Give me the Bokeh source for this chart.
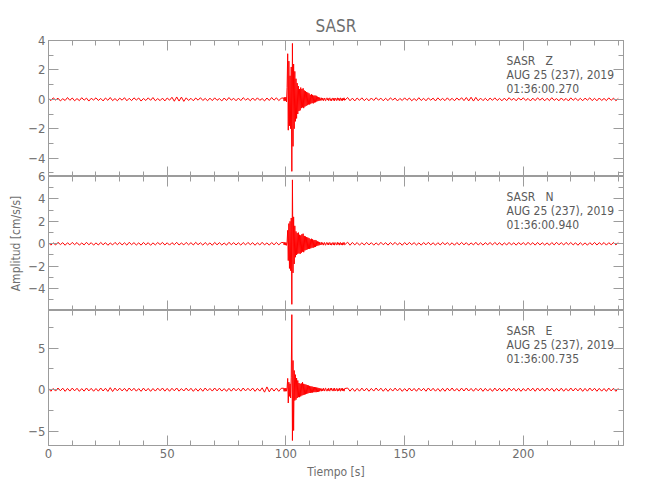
import numpy as np
from bokeh.plotting import figure
from bokeh.models import Range1d, LinearAxis, FixedTicker, CustomJSTickFormatter, Label, ColumnDataSource
from bokeh.layouts import column
from bokeh.embed import file_html
from bokeh.resources import INLINE

# ---------------- data ----------------
STATION = "SASR"
COMPONENTS = ["Z", "N", "E"]
DATE_LINE = "AUG 25 (237), 2019"
START_TIMES = ["01:36:00.270", "01:36:00.940", "01:36:00.735"]
X_LABEL = "Tiempo [s]"
Y_LABEL = "Amplitud [cm/s/s]"

T_PRE_START, DT_QUIET = 0.0, 1.0
T_EVT_START, DT_EVT = 99.0, 0.25
T_POST_START = 126.0

Z_PRE = [0.06, -0.09, 0.1, -0.05, 0.08, -0.11, 0.04, -0.08, 0.12, -0.07,
         0.09, -0.1, 0.05, -0.09, 0.11, -0.06, 0.08, -0.12, 0.07, -0.05,
         0.1, -0.08, 0.06, -0.11, 0.09, -0.07, 0.12, -0.09, 0.05, -0.1,
         0.08, -0.06, 0.11, -0.1, 0.07, -0.09, 0.1, -0.05, 0.09, -0.12,
         0.06, -0.08, 0.1, -0.07, 0.12, -0.1, 0.05, -0.09, 0.08, -0.11,
         0.09, -0.06, 0.14, -0.13, 0.16, -0.12, 0.15, -0.14, 0.1, -0.08,
         0.07, -0.1, 0.09, -0.06, 0.11, -0.08, 0.06, -0.1, 0.08, -0.09,
         0.1, -0.07, 0.05, -0.11, 0.09, -0.08, 0.12, -0.06, 0.07, -0.1,
         0.08, -0.09, 0.11, -0.05, 0.06, -0.1, 0.09, -0.08, 0.1, -0.07,
         0.05, -0.11, 0.09, -0.08, 0.12, -0.06, 0.1, -0.09, 0.07]
Z_EVT = [0.1, -0.12, 0.14, -0.1, 0.15, -0.18, 0.8, 3.1, -2.1, 2.6,
         -1.8, 1.6, -2.0, 2.2, -4.9, 3.8, -3.2, 2.4, -2.0, 1.9,
         -1.5, 1.4, -1.3, 1.1, -1.0, 0.9, -0.8, 0.7, -0.75, 0.8,
         -0.6, 0.7, -0.55, 0.75, -0.6, 0.6, -0.5, 0.55, -0.45, 0.5,
         -0.4, 0.45, -0.35, 0.4, -0.35, 0.3, -0.3, 0.35, -0.25, 0.3,
         -0.28, 0.25, -0.22, 0.26, -0.2, 0.24, -0.15, 0.18, -0.12, 0.14,
         -0.1, 0.12, 0.03, -0.09, 0.1, -0.04, 0.08, -0.1, 0.02, 0.09,
         -0.07, -0.1, 0.06, 0.1, -0.05, 0.07, -0.09, 0.04, 0.1, -0.08,
         0.02, -0.1, 0.08, 0.05, -0.07, 0.09, -0.1, 0.03, 0.08, -0.06,
         -0.09, 0.1, -0.03, 0.07, -0.1, 0.06, 0.09, -0.08, 0.04, -0.1,
         0.08, -0.05, 0.1, -0.07]
Z_POST = [0.12, -0.1, 0.08, -0.11, 0.09, -0.07, 0.1, -0.09, 0.06, -0.1,
          0.09, -0.08, 0.11, -0.06, 0.08, -0.1, 0.07, -0.09, 0.1, -0.05,
          0.08, -0.11, 0.06, -0.08, 0.1, -0.07, 0.09, -0.1, 0.05, -0.09,
          0.11, -0.08, 0.07, -0.1, 0.09, -0.06, 0.08, -0.11, 0.1, -0.07,
          0.06, -0.09, 0.1, -0.08, 0.07, -0.1, 0.09, -0.06, 0.11, -0.09,
          0.12, -0.11, 0.14, -0.12, 0.13, -0.1, 0.08, -0.09, 0.07, -0.1,
          0.09, -0.07, 0.1, -0.08, 0.06, -0.1, 0.08, -0.09, 0.11, -0.06,
          0.07, -0.1, 0.09, -0.05, 0.1, -0.08, 0.06, -0.11, 0.08, -0.09,
          0.1, -0.06, 0.08, -0.1, 0.07, -0.09, 0.11, -0.07, 0.05, -0.1,
          0.09, -0.08, 0.06, -0.11, 0.1, -0.07, 0.08, -0.09, 0.07, -0.1,
          0.08, -0.06, 0.1, -0.09, 0.07, -0.1, 0.09, -0.08, 0.06, -0.09,
          0.1, -0.07, 0.08, -0.1, 0.06]

N_PRE = [0.1, -0.12, 0.08, -0.11, 0.13, -0.07, 0.1, -0.13, 0.09, -0.1,
         0.12, -0.08, 0.11, -0.12, 0.07, -0.1, 0.13, -0.09, 0.1, -0.12,
         0.08, -0.11, 0.12, -0.09, 0.1, -0.13, 0.07, -0.1, 0.12, -0.08,
         0.11, -0.1, 0.09, -0.12, 0.13, -0.08, 0.1, -0.11, 0.08, -0.12,
         0.12, -0.09, 0.1, -0.13, 0.08, -0.1, 0.11, -0.07, 0.12, -0.11,
         0.09, -0.12, 0.1, -0.08, 0.13, -0.11, 0.07, -0.1, 0.12, -0.09,
         0.1, -0.11, 0.13, -0.08, 0.09, -0.12, 0.11, -0.1, 0.08, -0.13,
         0.12, -0.09, 0.1, -0.11, 0.07, -0.12, 0.13, -0.08, 0.1, -0.1,
         0.09, -0.12, 0.11, -0.1, 0.12, -0.08, 0.1, -0.13, 0.09, -0.11,
         0.13, -0.1, 0.08, -0.12, 0.11, -0.09, 0.12, -0.1, 0.1]
N_EVT = [0.12, -0.1, 0.13, -0.12, 0.11, -0.14, 0.15, 1.2, -1.5, 1.8,
         -2.2, 2.0, -2.4, 2.3, -5.4, 5.7, -2.6, 2.4, -1.8, 1.6,
         -1.2, 1.1, -1.0, 0.95, -0.9, 1.0, -0.85, 0.8, -0.9, 0.75,
         -0.8, 0.85, -0.7, 0.9, -0.75, 0.7, -0.6, 0.65, -0.55, 0.6,
         -0.5, 0.55, -0.45, 0.5, -0.45, 0.4, -0.4, 0.45, -0.35, 0.4,
         -0.35, 0.32, -0.3, 0.34, -0.28, 0.3, -0.2, 0.22, -0.16, 0.18,
         -0.13, 0.15, 0.04, -0.11, 0.12, -0.05, 0.1, -0.12, 0.03, 0.11,
         -0.09, -0.12, 0.07, 0.12, -0.06, 0.09, -0.11, 0.05, 0.12, -0.1,
         0.03, -0.12, 0.1, 0.06, -0.09, 0.11, -0.12, 0.04, 0.1, -0.07,
         -0.11, 0.12, -0.04, 0.09, -0.12, 0.07, 0.11, -0.1, 0.05, -0.12,
         0.1, -0.06, 0.12, -0.09]
N_POST = [0.14, -0.13, 0.12, -0.1, 0.11, -0.12, 0.09, -0.11, 0.12, -0.1,
          0.1, -0.12, 0.08, -0.11, 0.13, -0.09, 0.1, -0.12, 0.11, -0.08,
          0.12, -0.1, 0.09, -0.13, 0.11, -0.1, 0.12, -0.08, 0.1, -0.11,
          0.08, -0.12, 0.11, -0.09, 0.13, -0.1, 0.09, -0.12, 0.1, -0.11,
          0.12, -0.08, 0.1, -0.11, 0.09, -0.13, 0.11, -0.1, 0.12, -0.09,
          0.1, -0.12, 0.08, -0.1, 0.13, -0.11, 0.09, -0.12, 0.1, -0.08,
          0.11, -0.1, 0.12, -0.09, 0.1, -0.13, 0.08, -0.11, 0.12, -0.1,
          0.09, -0.12, 0.11, -0.08, 0.1, -0.11, 0.13, -0.09, 0.1, -0.12,
          0.12, -0.1, 0.09, -0.11, 0.08, -0.12, 0.11, -0.1, 0.13, -0.09,
          0.1, -0.11, 0.12, -0.08, 0.11, -0.1, 0.09, -0.13, 0.1, -0.11,
          0.08, -0.12, 0.1, -0.09, 0.12, -0.11, 0.1, -0.08, 0.11, -0.12,
          0.1, -0.09, 0.12, -0.1, 0.11]

E_PRE = [0.16, -0.19, 0.14, -0.17, 0.2, -0.13, 0.18, -0.2, 0.15, -0.17,
         0.19, -0.14, 0.17, -0.2, 0.13, -0.18, 0.2, -0.15, 0.16, -0.19,
         0.14, -0.18, 0.2, -0.16, 0.17, -0.21, 0.24, -0.22, 0.19, -0.14,
         0.18, -0.15, 0.16, -0.19, 0.2, -0.14, 0.17, -0.18, 0.13, -0.2,
         0.19, -0.16, 0.15, -0.2, 0.14, -0.17, 0.18, -0.13, 0.2, -0.18,
         0.15, -0.19, 0.17, -0.14, 0.2, -0.18, 0.13, -0.16, 0.19, -0.15,
         0.17, -0.2, 0.14, -0.18, 0.16, -0.19, 0.2, -0.14, 0.15, -0.17,
         0.2, -0.15, 0.18, -0.17, 0.13, -0.2, 0.16, -0.18, 0.19, -0.14,
         0.16, -0.18, 0.2, -0.15, 0.17, -0.14, 0.19, -0.2, 0.15, -0.17,
         0.22, -0.3, 0.33, -0.26, 0.2, -0.17, 0.18, -0.2, 0.16]
E_EVT = [0.18, -0.2, 0.17, -0.19, 0.2, -0.18, 0.2, 1.35, -1.6, 0.9,
         -0.8, 0.7, -1.0, 1.5, 9.0, -6.1, 3.5, -4.9, 2.3, -1.3,
         1.8, -1.2, 1.4, -1.0, 1.1, -0.9, 0.8, -0.9, 0.7, -0.8,
         0.75, -0.7, 0.9, -0.65, 0.7, -0.6, 0.65, -0.55, 0.6, -0.5,
         0.55, -0.45, 0.5, -0.4, 0.45, -0.4, 0.4, -0.35, 0.38, -0.35,
         0.33, -0.3, 0.32, -0.3, 0.28, -0.3, 0.26, -0.28, 0.22, -0.24,
         0.19, -0.2, -0.05, 0.16, -0.18, 0.07, -0.15, 0.18, -0.04, -0.17,
         0.13, 0.18, -0.1, -0.18, 0.09, -0.14, 0.17, -0.07, -0.18, 0.15,
         -0.04, 0.18, -0.15, -0.09, 0.13, -0.17, 0.18, -0.06, -0.15, 0.1,
         0.17, -0.18, 0.05, -0.13, 0.18, -0.1, -0.17, 0.15, -0.07, 0.18,
         -0.15, 0.09, -0.18, 0.13]
E_POST = [0.2, -0.18, 0.17, -0.2, 0.15, -0.18, 0.19, -0.16, 0.17, -0.19,
          0.15, -0.17, 0.2, -0.14, 0.18, -0.19, 0.16, -0.2, 0.14, -0.17,
          0.19, -0.15, 0.17, -0.2, 0.13, -0.18, 0.2, -0.16, 0.15, -0.19,
          0.18, -0.14, 0.16, -0.19, 0.2, -0.15, 0.17, -0.18, 0.14, -0.2,
          0.16, -0.19, 0.18, -0.15, 0.2, -0.17, 0.14, -0.18, 0.19, -0.16,
          0.2, -0.16, 0.15, -0.19, 0.17, -0.14, 0.18, -0.2, 0.16, -0.17,
          0.14, -0.2, 0.19, -0.16, 0.17, -0.18, 0.15, -0.19, 0.2, -0.14,
          0.17, -0.18, 0.16, -0.2, 0.14, -0.17, 0.19, -0.15, 0.18, -0.19,
          0.2, -0.15, 0.17, -0.18, 0.19, -0.14, 0.16, -0.2, 0.15, -0.17,
          0.18, -0.19, 0.14, -0.17, 0.2, -0.16, 0.18, -0.15, 0.19, -0.2,
          0.15, -0.18, 0.2, -0.14, 0.17, -0.19, 0.16, -0.18, 0.14, -0.2,
          0.19, -0.15, 0.17, -0.2, 0.16]

TRACES = [(Z_PRE, Z_EVT, Z_POST), (N_PRE, N_EVT, N_POST), (E_PRE, E_EVT, E_POST)]

X_LIMITS = (0, 242.2)
X_MAJOR = [0, 50, 100, 150, 200]
X_MINOR = list(range(0, 250, 10))
Y_LIMITS = [(-5.25, 4.0), (-5.95, 6.0), (-6.7, 9.5)]
Y_MAJOR = [[-4, -2, 0, 2, 4], [-4, -2, 0, 2, 4, 6], [-5, 0, 5]]
Y_MINOR = [[-5, -4, -3, -2, -1, 0, 1, 2, 3, 4],
           [-5, -4, -3, -2, -1, 0, 1, 2, 3, 4, 5, 6],
           [-5, -2.5, 0, 2.5, 5, 7.5]]

# ---------------- style ----------------
FONT = "DejaVu Sans Condensed, Liberation Sans Narrow, Roboto"
AXIS_COLOR = "#9c9c9c"
TEXT_COLOR = "#6e6e6e"
NOTE_COLOR = "#5a5a5a"
FRAME_H = [136, 134, 135]
OVERLAP = 10
LEFT_B, RIGHT_B = 48, 19

minus_fmt = CustomJSTickFormatter(code="return tick < 0 ? '\u2212' + String(Math.abs(tick)) : String(tick);")
blank_fmt = CustomJSTickFormatter(code="return '';")


def style_axis(ax, major, minor, labels):
    ax.ticker = FixedTicker(ticks=major, minor_ticks=minor)
    ax.axis_line_color = AXIS_COLOR
    ax.major_tick_line_color = AXIS_COLOR
    ax.minor_tick_line_color = AXIS_COLOR
    ax.major_tick_in = 10
    ax.major_tick_out = 0
    ax.minor_tick_in = 5
    ax.minor_tick_out = 0
    if labels:
        ax.formatter = minus_fmt
        ax.major_label_text_font = FONT
        ax.major_label_text_font_size = "13px"
        ax.major_label_text_color = TEXT_COLOR
        ax.major_label_standoff = 3
    else:
        ax.formatter = blank_fmt
        ax.major_label_text_font_size = "0px"
        ax.major_label_standoff = 0


panels = []
for i in range(3):
    first, last = i == 0, i == 2
    top_b = 40 if first else (OVERLAP if i == 1 else 0)
    bot_b = 45 if last else 0
    p = figure(width=575 + LEFT_B + RIGHT_B, height=FRAME_H[i] + top_b + bot_b,
               x_range=Range1d(*X_LIMITS), y_range=Range1d(*Y_LIMITS[i]),
               output_backend="svg", toolbar_location=None,
               x_axis_location=None, y_axis_location=None)
    p.min_border_left = LEFT_B
    p.min_border_right = RIGHT_B
    p.min_border_top = top_b
    p.min_border_bottom = bot_b
    p.grid.visible = False
    p.outline_line_color = AXIS_COLOR
    p.border_fill_color = None
    p.background_fill_color = None

    bottom = LinearAxis()
    style_axis(bottom, X_MAJOR, X_MINOR, last)
    if last:
        bottom.axis_label = X_LABEL
        bottom.axis_label_text_font = FONT
        bottom.axis_label_text_font_size = "12px"
        bottom.axis_label_text_font_style = "normal"
        bottom.axis_label_text_color = TEXT_COLOR
        bottom.axis_label_standoff = 4
    p.add_layout(bottom, "below")
    top = LinearAxis()
    style_axis(top, X_MAJOR, X_MINOR, False)
    p.add_layout(top, "above")
    left = LinearAxis()
    style_axis(left, Y_MAJOR[i], Y_MINOR[i], True)
    if i == 1:
        left.axis_label = Y_LABEL
        left.axis_label_text_font = FONT
        left.axis_label_text_font_size = "12px"
        left.axis_label_text_font_style = "normal"
        left.axis_label_text_color = TEXT_COLOR
        left.axis_label_standoff = 2
    p.add_layout(left, "left")
    right = LinearAxis()
    style_axis(right, Y_MAJOR[i], Y_MINOR[i], False)
    p.add_layout(right, "right")

    if first:
        p.title.text = STATION
        p.title.align = "center"
        p.title.text_font = FONT
        p.title.text_font_size = "17px"
        p.title.text_font_style = "normal"
        p.title.text_color = TEXT_COLOR
        p.title.standoff = 9

    pre, evt, post = TRACES[i]
    t = np.concatenate([T_PRE_START + DT_QUIET * np.arange(len(pre)),
                        T_EVT_START + DT_EVT * np.arange(len(evt)),
                        T_POST_START + DT_QUIET * np.arange(len(post))])
    y = np.concatenate([pre, evt, post])
    src = ColumnDataSource(dict(t=t, a=y))
    p.line("t", "a", source=src, line_color="#ff0000", line_width=1)

    ymin, ymax = Y_LIMITS[i]
    ppu = FRAME_H[i] / (ymax - ymin)
    x_note = X_LIMITS[0] + (506 - 48) / 575 * (X_LIMITS[1] - X_LIMITS[0])
    lines = [f"{STATION}\u00a0\u00a0\u00a0{COMPONENTS[i]}", DATE_LINE, START_TIMES[i]]
    for k, txt in enumerate(lines):
        dy = 20.5 + 14.2 * k
        p.add_layout(Label(x=x_note, y=ymax - dy / ppu, text=txt,
                           text_font=FONT, text_font_size="12px",
                           text_color=NOTE_COLOR, text_baseline="middle",
                           text_align="left"))
    if i == 1:
        p.margin = (-OVERLAP, 0, 0, 0)
    panels.append(p)

layout = column(*panels, spacing=0)
open("out.html", "w").write(file_html(layout, INLINE))
